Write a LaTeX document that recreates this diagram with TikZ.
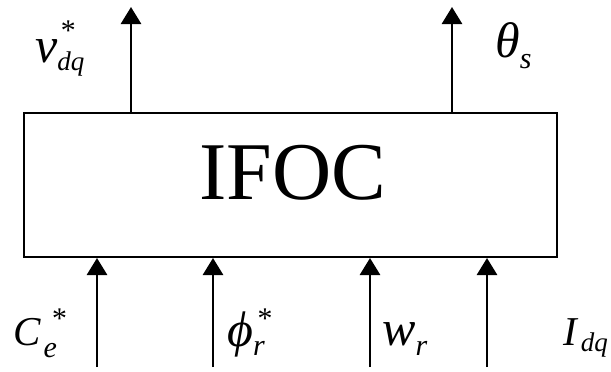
\documentclass[tikz,border=0pt]{standalone}
\usepackage{fontspec}
\setmainfont{Liberation Serif}
\usetikzlibrary{arrows.meta, positioning}

\begin{document}
\begin{tikzpicture}[x=1pt, y=-1pt,
    blockbox/.style={draw, line width=2pt, rectangle, minimum width=533pt, minimum height=144pt, inner sep=0pt},
    sig/.style={line width=2.8pt, -{Triangle[length=17pt, width=20pt]}},
    lbl/.style={inner sep=0pt, anchor=base west, font=\itshape}]
    \useasboundingbox (0,0) rectangle (611,372);

    % IFOC block
    \node[blockbox] (ifoc) at (290.5,185) {};
    \node[font=\fontsize{82}{82}\selectfont] (ifoctxt) at (293,173) {IFOC};

    % Outputs
    \coordinate (vdq) at (131,7);
    \coordinate (thetas) at (452,7);
    \draw[sig] (ifoc.north -| vdq) -- (vdq);
    \draw[sig] (ifoc.north -| thetas) -- (thetas);
    \node[lbl] (vlbl) at (35,62) {\fontsize{50}{50}\selectfont v\rlap{\hspace{2pt}\raisebox{22pt}{\fontsize{30}{30}\selectfont *}}\raisebox{-9pt}{\fontsize{27}{27}\selectfont dq}};
    \node[lbl] (thlbl) at (495,57) {\fontsize{50}{50}\selectfont θ\raisebox{-11pt}{\fontsize{30}{30}\selectfont s}};

    % Inputs
    \coordinate (ce) at (97,367);
    \coordinate (phr) at (213,367);
    \coordinate (wr) at (370,367);
    \coordinate (idq) at (487,367);
    \draw[sig] (ce) -- (ce |- ifoc.south);
    \draw[sig] (phr) -- (phr |- ifoc.south);
    \draw[sig] (wr) -- (wr |- ifoc.south);
    \draw[sig] (idq) -- (idq |- ifoc.south);
    \node[lbl] (celbl) at (13,345) {\fontsize{41}{41}\selectfont C\rlap{\hspace{10pt}\raisebox{17pt}{\fontsize{30}{30}\selectfont *}}\hspace{3pt}\raisebox{-12pt}{\fontsize{30}{30}\selectfont e}};
    \node[lbl] (phlbl) at (227,346) {\fontsize{50}{50}\selectfont ϕ\rlap{\hspace{3pt}\raisebox{18pt}{\fontsize{30}{30}\selectfont *}}\raisebox{-9pt}{\fontsize{30}{30}\selectfont r}};
    \node[lbl] (wlbl) at (382,345) {\fontsize{50}{50}\selectfont w\raisebox{-10pt}{\fontsize{30}{30}\selectfont r}};
    \node[lbl] (ilbl) at (563,345) {\fontsize{41}{41}\selectfont I\hspace{4pt}\raisebox{-6pt}{\fontsize{27}{27}\selectfont dq}};
\end{tikzpicture}
\end{document}
